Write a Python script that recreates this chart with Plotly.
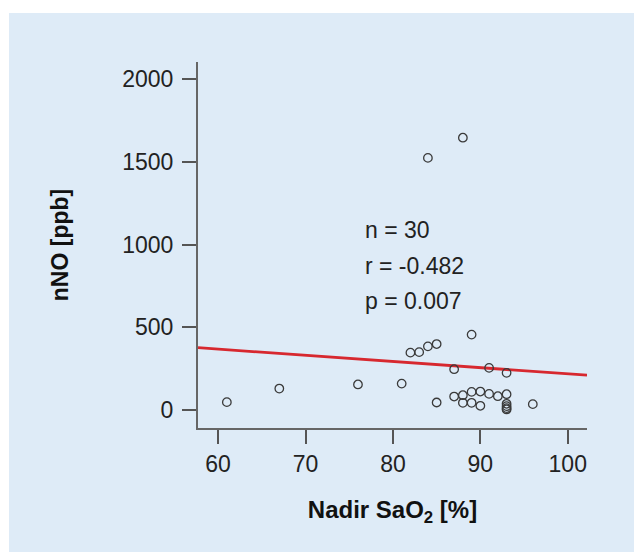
import plotly.graph_objects as go

# Data
nadir_sao2 = [61, 67, 76, 81, 82, 83, 84, 85, 84, 88, 89, 87, 91, 93,
              85, 87, 88, 89, 90, 91, 92, 93, 88, 89, 90, 96, 93, 93, 93, 93]
nno_ppb = [48, 130, 155, 160, 347, 350, 385, 399, 1523, 1645, 456, 247, 255, 225,
           46, 82, 90, 110, 112, 98, 84, 96, 44, 44, 26, 36, 38, 24, 12, 4]

fit_x = [57.7, 102.2]
fit_y = [377, 211]

stats_lines = ["n = 30", "r = -0.482", "p = 0.007"]
stats_y = [1090, 873, 656]

x_ticks = [60, 70, 80, 90, 100]
y_ticks = [0, 500, 1000, 1500, 2000]

BLUE = "#deebf7"
FONT = "Liberation Sans, Arial"

fig = go.Figure()
fig.add_trace(go.Scatter(
    x=fit_x, y=fit_y, mode="lines",
    line=dict(color="#d7282f", width=2.8),
    hoverinfo="skip", showlegend=False))
fig.add_trace(go.Scatter(
    x=nadir_sao2, y=nno_ppb, mode="markers",
    marker=dict(symbol="circle-open", size=8.5, color="#3a3a3a",
                line=dict(width=1.3, color="#3a3a3a")),
    showlegend=False))

for txt, yv in zip(stats_lines, stats_y):
    fig.add_annotation(x=76.6, y=yv, xref="x", yref="y", text=txt,
                       showarrow=False, xanchor="left", yanchor="middle",
                       font=dict(family=FONT, size=23, color="#222"))

# figure is drawn with an 8px page margin, so figure coords = screen - 8
pw, ph = 389, 366
fig.add_shape(type="rect", xref="paper", yref="paper",
              x0=(1 - 190) / pw, x1=(640 - 190) / pw,
              y0=(420 - 550) / ph, y1=(420 - 5) / ph,
              fillcolor=BLUE, line=dict(width=0), layer="below")

axis_common = dict(
    showgrid=False, zeroline=False, showline=True, linecolor="#666",
    linewidth=2, ticks="outside", ticklen=14, tickwidth=2, tickcolor="#555",
    tickfont=dict(family=FONT, size=23, color="#222"),
)

fig.update_xaxes(range=[57.7, 102.2], tickvals=x_ticks,
                 title=dict(text="<b>Nadir SaO<sub>2</sub> [%]</b>", standoff=26,
                            font=dict(family=FONT, size=24, color="#111")),
                 **axis_common)
fig.update_yaxes(range=[-108, 2102], tickvals=y_ticks, ticklabelstandoff=4,
                 title=dict(text="<b>nNO [ppb]</b>", standoff=47,
                            font=dict(family=FONT, size=23, color="#111")),
                 **axis_common)

fig.update_layout(
    width=634, height=544,
    margin=dict(l=190, r=55, t=54, b=124),
    paper_bgcolor="white", plot_bgcolor=BLUE,
)

fig.write_html("out.html")
